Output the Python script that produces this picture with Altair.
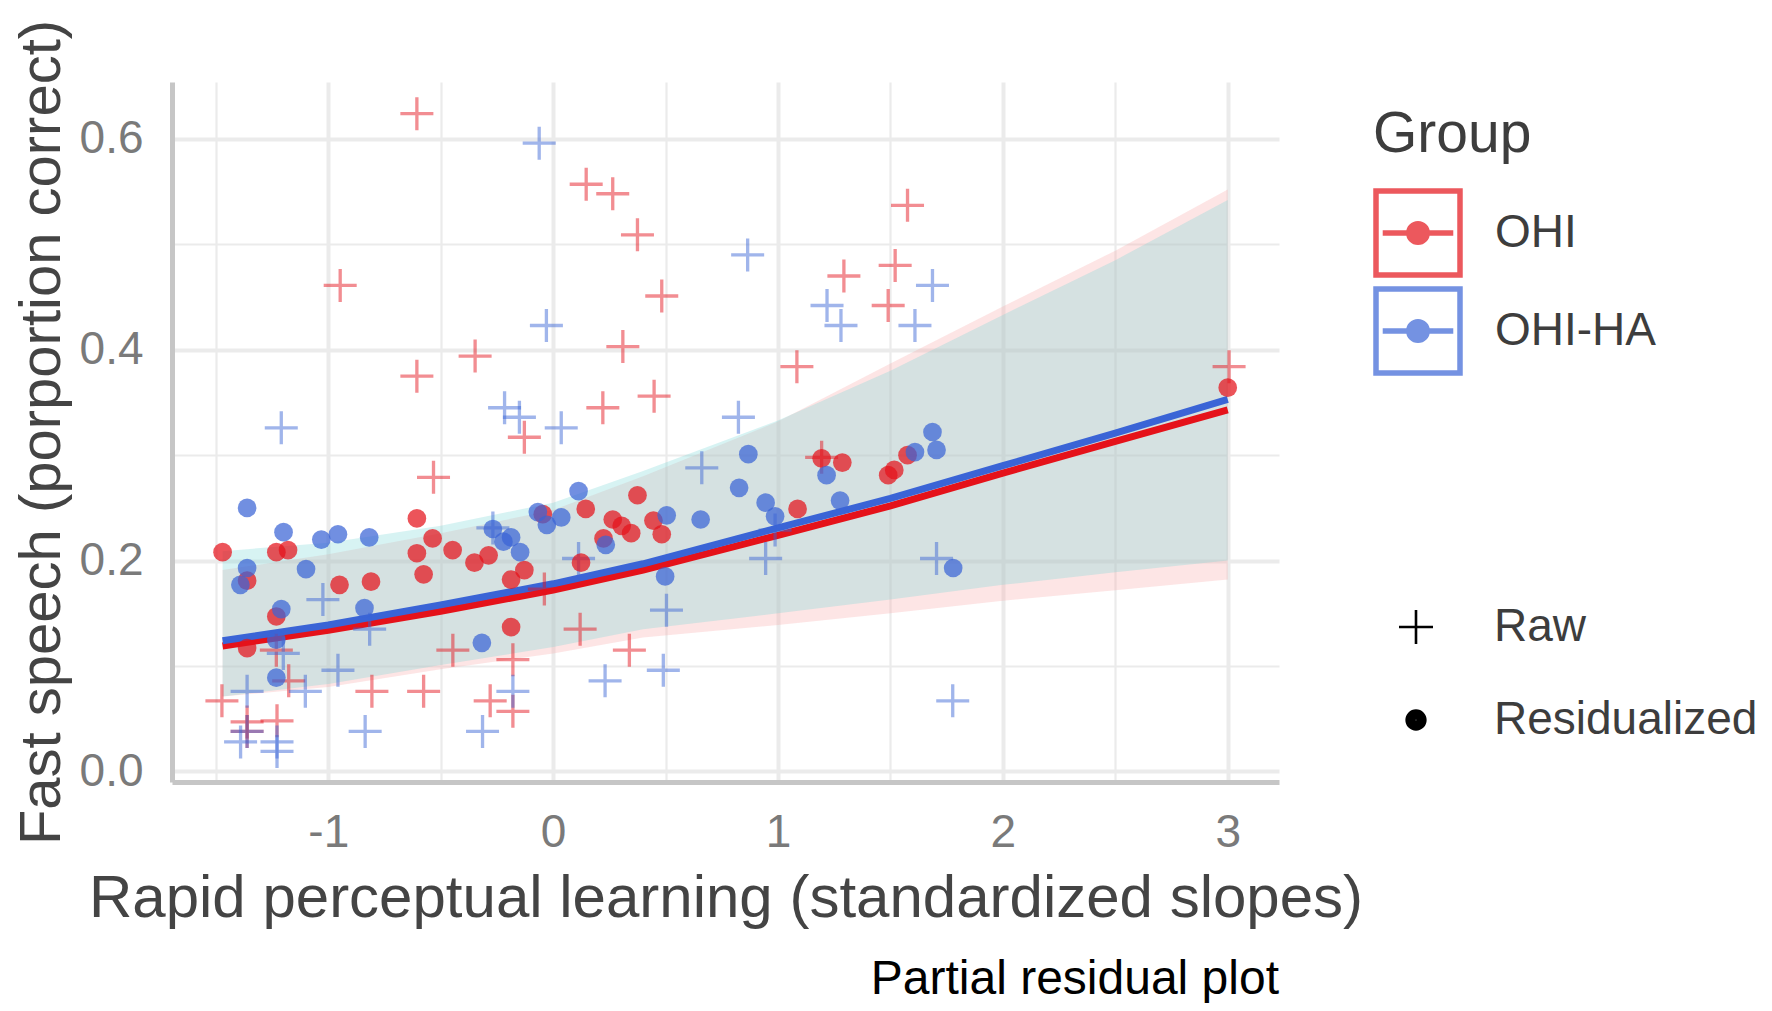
import altair as alt
import pandas as pd

FONT = "Liberation Sans"
GROUPS = ["OHI", "OHI-HA"]
TYPES = ["Raw", "Residualized"]

# ---- raw observations (+) ----
ohi_raw_x = [-0.606, 0.147, 0.265, 0.375, -0.947, 0.310, -0.347, -0.606, 1.576, 1.293, 1.521, 1.490,
             1.084, 0.483, 0.449, -0.128, 0.221, -0.532, -0.039, 0.120, -0.446, -0.179, 0.339, -1.231,
             -1.176, -1.473, -0.806, -0.576, -0.280, -0.179, 1.194, 3.006, -1.361, -1.361, -1.228]
ohi_raw_y = [0.624, 0.557, 0.548, 0.509, 0.461, 0.403, 0.394, 0.375, 0.537, 0.470, 0.480, 0.442,
             0.384, 0.451, 0.356, 0.317, 0.345, 0.279, 0.173, 0.135, 0.115, 0.106, 0.115, 0.115,
             0.086, 0.067, 0.076, 0.076, 0.067, 0.057, 0.298, 0.384, 0.047, 0.038, 0.048]
ha_raw_x = [-0.062, -0.030, 0.865, 1.687, 1.218, 1.280, 1.609, -0.216, -0.150, 0.036, -1.209, -0.268,
            0.113, -1.024, -0.816, 0.231, -0.957, -1.200, -1.102, -1.361, -0.179, -0.314, -0.836, 0.490,
            0.504, 1.777, 0.824, 0.661, 0.945, 0.987, 1.705, -1.361, -1.390, -1.228, -1.228]
ha_raw_y = [0.596, 0.423, 0.490, 0.461, 0.442, 0.423, 0.423, 0.345, 0.336, 0.326, 0.326, 0.231,
            0.202, 0.163, 0.135, 0.086, 0.096, 0.112, 0.076, 0.076, 0.076, 0.038, 0.038, 0.096,
            0.153, 0.067, 0.336, 0.288, 0.202, 0.229, 0.202, 0.038, 0.028, 0.028, 0.019]

# ---- residualized observations (dots) ----
ohi_res_x = [-1.470, -1.231, -1.179, -1.361, -0.950, -0.810, -1.231, -1.361, -0.606, -0.536, -0.606, -0.447,
             -0.576, -0.350, -0.287, -0.128, -0.187, -0.187, -0.046, 0.145, 0.375, 0.265, 0.305, 0.347,
             0.224, 0.124, 0.446, 0.483, 1.087, 1.194, 1.286, 1.490, 1.517, 1.576, 3.000]
ohi_res_y = [0.208, 0.208, 0.210, 0.181, 0.177, 0.180, 0.147, 0.117, 0.240, 0.221, 0.207, 0.210,
             0.187, 0.198, 0.205, 0.191, 0.182, 0.137, 0.244, 0.249, 0.262, 0.239, 0.233, 0.226,
             0.221, 0.198, 0.238, 0.225, 0.249, 0.297, 0.293, 0.281, 0.286, 0.300, 0.364]
ha_res_x = [-1.361, -1.199, -1.361, -1.391, -1.099, -1.031, -0.957, -0.818, -1.209, -0.839, -1.231, -1.231,
            -0.268, -0.221, -0.187, -0.147, -0.317, -0.068, -0.028, 0.036, 0.113, 0.234, 0.505, 0.498,
            0.656, 0.868, 0.827, 0.945, 0.987, 1.216, 1.276, 1.609, 1.687, 1.705, 1.779]
ha_res_y = [0.250, 0.227, 0.193, 0.177, 0.192, 0.220, 0.225, 0.222, 0.154, 0.155, 0.125, 0.089,
            0.230, 0.218, 0.222, 0.208, 0.122, 0.246, 0.234, 0.241, 0.266, 0.215, 0.243, 0.185,
            0.239, 0.301, 0.269, 0.255, 0.242, 0.281, 0.257, 0.303, 0.322, 0.305, 0.193]

# ---- fitted curves and confidence bands ----
fit_x = [-1.47, -1.0, -0.5, 0.0, 0.4, 1.0, 1.5, 2.0, 2.5, 3.0]
ohi_fit = [0.119, 0.134, 0.152, 0.172, 0.191, 0.224, 0.252, 0.283, 0.313, 0.343]
ohi_lo = [0.071, 0.080, 0.097, 0.112, 0.127, 0.139, 0.150, 0.162, 0.172, 0.182]
ohi_hi = [0.191, 0.206, 0.226, 0.248, 0.280, 0.332, 0.387, 0.441, 0.494, 0.552]
ha_fit = [0.124, 0.139, 0.158, 0.178, 0.197, 0.231, 0.259, 0.290, 0.321, 0.353]
ha_lo = [0.071, 0.083, 0.101, 0.118, 0.135, 0.150, 0.163, 0.177, 0.189, 0.200]
ha_hi = [0.209, 0.217, 0.233, 0.255, 0.285, 0.333, 0.380, 0.433, 0.485, 0.542]

x_grid = [-1.5, -1.0, -0.5, 0.0, 0.5, 1.0, 1.5, 2.0, 2.5, 3.0]
y_grid = [0.0, 0.1, 0.2, 0.3, 0.4, 0.5, 0.6]

RED = "#e5121a"
BLUE = "#3a64d6"

raw = pd.DataFrame({
    "x": ohi_raw_x + ha_raw_x,
    "y": ohi_raw_y + ha_raw_y,
    "group": ["OHI"] * len(ohi_raw_x) + ["OHI-HA"] * len(ha_raw_x),
    "type": "Raw",
})
res_ohi = pd.DataFrame({"x": ohi_res_x, "y": ohi_res_y})
res_ha = pd.DataFrame({"x": ha_res_x, "y": ha_res_y})
fits = pd.DataFrame({
    "x": fit_x + fit_x,
    "y": ohi_fit + ha_fit,
    "group": ["OHI"] * len(fit_x) + ["OHI-HA"] * len(fit_x),
})
band_ohi = pd.DataFrame({"x": fit_x, "lo": ohi_lo, "hi": ohi_hi})
band_ha = pd.DataFrame({"x": fit_x, "lo": ha_lo, "hi": ha_hi})

major_x = "datum.value === round(datum.value)"
major_y = "round(datum.value * 10) % 2 === 0"

x_axis = alt.Axis(
    values=x_grid, labelExpr=major_x + " ? '' + datum.value : ''",
    grid=True, gridColor="#ebebeb",
    gridWidth={"condition": {"test": major_x, "value": 4}, "value": 2.2},
    ticks=False, domain=True, domainColor="#c6c6c6", domainWidth=5,
    labelFontSize=46, labelColor="#7a7a7a", labelFont=FONT, labelPadding=28,
    titleFontSize=60, titleColor="#444444", titleFont=FONT, titleFontWeight="normal",
    titlePadding=14,
)
y_axis = alt.Axis(
    values=y_grid, labelExpr=major_y + " ? format(datum.value, '.1f') : ''",
    grid=True, gridColor="#ebebeb",
    gridWidth={"condition": {"test": major_y, "value": 4}, "value": 2.2},
    ticks=False, domain=True, domainColor="#c6c6c6", domainWidth=5,
    labelFontSize=46, labelColor="#7a7a7a", labelFont=FONT, labelPadding=29,
    titleFontSize=58, titleColor="#444444", titleFont=FONT, titleFontWeight="normal",
    titlePadding=8,
)
xs = alt.Scale(domain=[-1.695, 3.228], nice=False, zero=False)
ys = alt.Scale(domain=[-0.01, 0.654], nice=False, zero=False)
X = alt.X("x:Q", scale=xs, axis=x_axis, title="Rapid perceptual learning (standardized slopes)")


def Y(field):
    return alt.Y(field + ":Q", scale=ys, axis=y_axis, title="Fast speech (porportion correct)")


def circ(r):
    return f"M{-r},0A{r},{r} 0 1,0 {r},0A{r},{r} 0 1,0 {-r},0Z"


KEY_PATH = "M-1,-1H1V1H-1Z M-0.84,0H0.84 " + circ(0.22) + circ(0.12) + circ(0.04)
PLUS_PATH = "M-1,0H1M0,-1V1"
DISK_PATH = circ(0.55) + circ(0.42) + circ(0.29) + circ(0.16) + circ(0.05)

color = alt.Color(
    "group:N",
    scale=alt.Scale(domain=GROUPS, range=[RED, BLUE]),
    legend=alt.Legend(
        title="Group", orient="none", legendX=1201, legendY=25,
        symbolType=KEY_PATH, symbolSize=7056, symbolStrokeWidth=5.5,
        symbolFillColor="#dcdcdc", symbolOpacity=1,
        labelFontSize=46, labelFont=FONT, labelColor="#3d3d3d", labelOffset=32, labelLimit=0,
        titleFontSize=57, titleFont=FONT, titleColor="#3d3d3d", titleFontWeight="normal",
        titlePadding=24, rowPadding=-16, padding=0,
    ),
)
color_plain = alt.Color("group:N", scale=alt.Scale(domain=GROUPS, range=[RED, BLUE]))

shape = alt.Shape(
    "type:N",
    scale=alt.Scale(domain=TYPES, range=[PLUS_PATH, DISK_PATH]),
    legend=alt.Legend(
        title=None, orient="none", legendX=1221, legendY=522,
        symbolSize=1156, symbolStrokeWidth=2.6, symbolStrokeColor="black",
        symbolOpacity=1,
        labelFontSize=46, labelFont=FONT, labelColor="#3d3d3d", labelOffset=55, labelLimit=0,
        rowPadding=47, padding=0,
    ),
)

ribbon_ohi = alt.Chart(band_ohi).mark_area(color="#f8a8a8", opacity=0.3).encode(
    x=X, y=Y("lo"), y2="hi")
ribbon_ha = alt.Chart(band_ha).mark_area(color="#7ad7d7", opacity=0.3).encode(
    x=X, y=Y("lo"), y2="hi")
lines = alt.Chart(fits).mark_line(strokeWidth=7).encode(x=X, y=Y("y"), color=color)
crosses = alt.Chart(raw).mark_point(filled=False, strokeWidth=3.3, size=1089).encode(
    x=X, y=Y("y"), color=color_plain, shape=shape, strokeOpacity=alt.value(0.68))
dots_ohi = alt.Chart(res_ohi).mark_circle(color=RED, opacity=0.72, size=350).encode(x=X, y=Y("y"))
dots_ha = alt.Chart(res_ha).mark_circle(color=BLUE, opacity=0.72, size=350).encode(x=X, y=Y("y"))

chart = alt.layer(ribbon_ohi, ribbon_ha, lines, crosses, dots_ohi, dots_ha).properties(
    width=1107, height=700,
    autosize=alt.AutoSizeParams(type="none"),
    padding={"left": 164, "top": 74, "right": 485, "bottom": 221},
    title=alt.Title("Partial residual plot", orient="bottom", anchor="end", frame="group",
                    fontSize=48, font=FONT, color="black", fontWeight="normal", offset=28),
).configure(background="white").configure_view(stroke=None)

chart.save("out.html", embed_options={"renderer": "svg", "actions": False})
